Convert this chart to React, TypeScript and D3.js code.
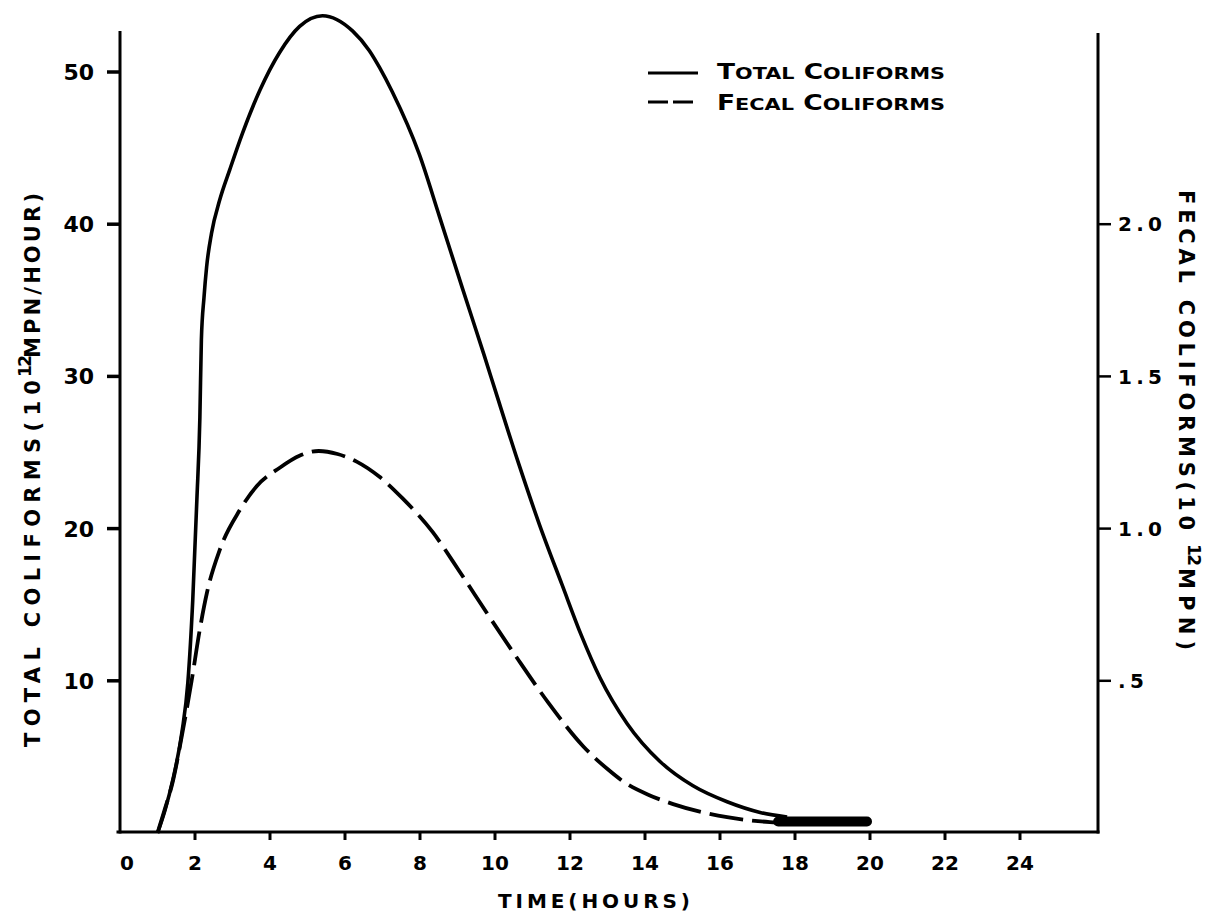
import React from "react";
import * as d3 from "d3";

// ---- data ----
const TOTAL_HOURS = [1.0, 1.2, 1.41, 1.65, 1.81, 1.94, 2.05, 2.13, 2.17, 2.24, 2.31, 2.44, 2.66, 2.93, 3.27, 3.73, 4.26, 4.79, 5.4, 6.2, 6.65, 6.92, 7.26, 7.98, 8.52, 9.13, 9.71, 10.03, 10.64, 11.18, 11.79, 12.3, 12.8, 13.52, 14.4, 15.28, 16.19, 17.07, 17.79];
const TOTAL_VALUES = [0, 1.5, 3.5, 6.6, 9.9, 15.3, 21.9, 27.3, 32.4, 35.2, 37.2, 39.4, 41.6, 43.6, 46.0, 48.8, 51.3, 53.0, 53.7, 52.7, 51.4, 50.3, 48.7, 44.6, 40.5, 35.8, 31.4, 28.9, 24.2, 20.3, 16.3, 13.0, 10.2, 7.2, 4.7, 3.1, 2.05, 1.35, 1.05];

const FECAL_HOURS = [1.0, 1.2, 1.41, 1.65, 1.91, 2.13, 2.32, 2.66, 3.19, 3.65, 4.26, 4.8, 5.3, 5.8, 6.31, 6.92, 7.53, 8.33, 9.05, 9.77, 10.56, 11.44, 12.35, 13.0, 13.47, 14.1, 14.75, 16.19, 17.33, 17.8];
const FECAL_VALUES = [0, 0.08, 0.17, 0.32, 0.5, 0.67, 0.79, 0.93, 1.06, 1.14, 1.2, 1.24, 1.255, 1.245, 1.22, 1.17, 1.1, 0.99, 0.86, 0.725, 0.58, 0.425, 0.285, 0.21, 0.165, 0.125, 0.095, 0.052, 0.036, 0.034];

// overlapping tail of both curves (drawn as a heavy bar)
const TAIL_HOURS = [17.55, 19.92];
const TAIL_TOTAL_VALUE = 0.75;

const HOUR_TICKS = [0, 2, 4, 6, 8, 10, 12, 14, 16, 18, 20, 22, 24];
const TOTAL_TICKS = [10, 20, 30, 40, 50];
const FECAL_TICKS = [0.5, 1.0, 1.5, 2.0];
const FECAL_TICK_LABELS = [".5", "1.0", "1.5", "2.0"];

const LEGEND_ITEMS = ["TOTAL COLIFORMS", "FECAL COLIFORMS"];

const FONT = "'DejaVu Sans', sans-serif";

function SmallCaps({ text, big, small }: { text: string; big: number; small: number }) {
  const words = text.split(" ");
  const parts: React.ReactNode[] = [];
  words.forEach((w, i) => {
    parts.push(
      <tspan key={"b" + i} fontSize={big}>{(i > 0 ? " " : "") + w[0]}</tspan>
    );
    parts.push(
      <tspan key={"s" + i} fontSize={small}>{w.slice(1)}</tspan>
    );
  });
  return <>{parts}</>;
}

export default function App() {
  const W = 1205;
  const H = 913;
  const xMaxHour = 26.08;
  const x = d3.scaleLinear().domain([0, 24]).range([120, 1020]);
  const yT = d3.scaleLinear().domain([0, 50]).range([833, 72]);
  const yF = d3.scaleLinear().domain([0, 2.5]).range([833, 72]);
  const yTopT = 52.6;

  const totalPts = TOTAL_HOURS.map((h, i) => [h, TOTAL_VALUES[i]] as [number, number]);
  const fecalPts = FECAL_HOURS.map((h, i) => [h, FECAL_VALUES[i]] as [number, number]);

  const totalLine = d3
    .line<[number, number]>()
    .x((d) => x(d[0]))
    .y((d) => yT(d[1]))
    .curve(d3.curveMonotoneX);
  const fecalLine = d3
    .line<[number, number]>()
    .x((d) => x(d[0]))
    .y((d) => yF(d[1]))
    .curve(d3.curveMonotoneX);

  const x0 = x(0);
  const xR = x(xMaxHour);
  const yB = yT(0) - 1;

  return (
    <svg width={W} height={H} style={{ display: "block", position: "absolute", left: 0, top: 0, background: "#fff" }} fontFamily={FONT}>
      <rect x={0} y={0} width={W} height={H} fill="#fff" />
      {/* axes */}
      <g stroke="#000" strokeWidth={3} fill="none" strokeLinecap="square">
        <line x1={x0} y1={yT(yTopT)} x2={x0} y2={yB} />
        <line x1={x0 - 2} y1={yB} x2={xR} y2={yB} />
        <line x1={xR} y1={yT(yTopT) + 2} x2={xR} y2={yB} />
      </g>
      {/* x ticks */}
      <g>
        {HOUR_TICKS.map((h) => (
          <g key={h}>
            {h > 0 && <line x1={x(h)} y1={yB} x2={x(h)} y2={yB + 8} stroke="#000" strokeWidth={3} />}
            <text x={x(h) + (h === 0 ? 7 : 0)} y={870} textAnchor="middle" fontSize={20} fontWeight="bold">
              {h}
            </text>
          </g>
        ))}
      </g>
      {/* left ticks */}
      <g>
        {TOTAL_TICKS.map((v) => (
          <g key={v}>
            <line x1={x0 - 13} y1={yT(v)} x2={x0} y2={yT(v)} stroke="#000" strokeWidth={3.5} />
            <text x={94} y={yT(v)} dy="0.36em" textAnchor="end" fontSize={22} fontWeight="bold">
              {v}
            </text>
          </g>
        ))}
      </g>
      {/* right ticks */}
      <g>
        {FECAL_TICKS.map((v, i) => (
          <g key={v}>
            <line x1={xR} y1={yF(v)} x2={xR + 13} y2={yF(v)} stroke="#000" strokeWidth={2.5} />
            <text
              x={1118}
              y={yF(v)}
              dy="0.36em"
              textAnchor="start"
              fontSize={20}
              fontWeight="bold"
              textLength={FECAL_TICK_LABELS[i].length === 3 ? 44 : 26}
              lengthAdjust="spacing"
            >
              {FECAL_TICK_LABELS[i]}
            </text>
          </g>
        ))}
      </g>
      {/* axis titles */}
      <text x={498} y={908} fontSize={20} fontWeight="bold" textLength={192} lengthAdjust="spacing">
        TIME(HOURS)
      </text>
      <g transform="translate(40,0) rotate(-90)">
        <text x={-747} y={0} fontSize={21} fontWeight="bold" textLength={367} lengthAdjust="spacing">
          TOTAL COLIFORMS(10
        </text>
        <text x={-377} y={-9} fontSize={17} fontWeight="bold" textLength={22} lengthAdjust="spacing">
          12
        </text>
        <text x={-358} y={0} fontSize={21} fontWeight="bold" textLength={165} lengthAdjust="spacing">
          MPN/HOUR)
        </text>
      </g>
      <g transform="translate(1179,0) rotate(90)">
        <text x={190} y={0} fontSize={21} fontWeight="bold" textLength={340} lengthAdjust="spacing">
          FECAL COLIFORMS(10
        </text>
        <text x={544} y={-9} fontSize={17} fontWeight="bold" textLength={22} lengthAdjust="spacing">
          12
        </text>
        <text x={568} y={0} fontSize={21} fontWeight="bold" textLength={82} lengthAdjust="spacing">
          MPN)
        </text>
      </g>
      {/* curves */}
      <path d={totalLine(totalPts) || ""} fill="none" stroke="#000" strokeWidth={3.6} strokeLinejoin="round" />
      <path d={fecalLine(fecalPts) || ""} fill="none" stroke="#000" strokeWidth={3.8} strokeDasharray="34 9" strokeLinejoin="round" />
      <line
        x1={x(TAIL_HOURS[0])}
        y1={yT(TAIL_TOTAL_VALUE)}
        x2={x(TAIL_HOURS[1])}
        y2={yT(TAIL_TOTAL_VALUE)}
        stroke="#000"
        strokeWidth={10}
        strokeLinecap="round"
      />
      {/* legend */}
      <g>
        <line x1={648} y1={73} x2={698} y2={73} stroke="#000" strokeWidth={3} />
        <line x1={648} y1={102} x2={698} y2={102} stroke="#000" strokeWidth={3} strokeDasharray="20 5" />
        {LEGEND_ITEMS.map((t, i) => (
          <text key={t} x={717} y={79 + i * 31} fontWeight="bold" textLength={228} lengthAdjust="spacingAndGlyphs">
            <SmallCaps text={t} big={21} small={16.5} />
          </text>
        ))}
      </g>
    </svg>
  );
}
